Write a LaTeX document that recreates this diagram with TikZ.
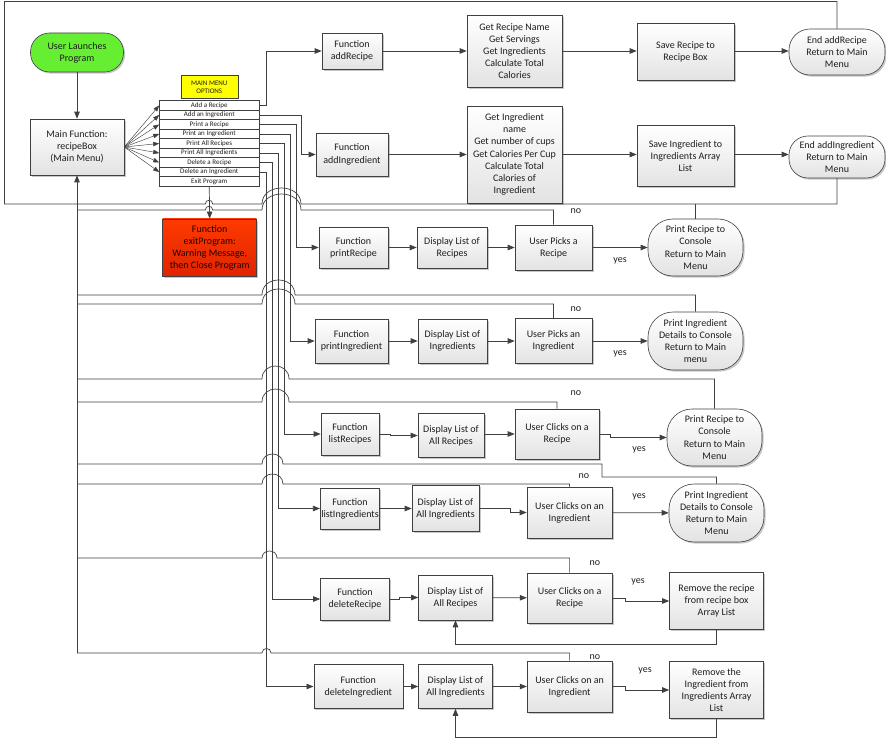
\documentclass[tikz,border=0pt]{standalone}
\usepackage{fontspec}
\setmainfont{Carlito}
\usetikzlibrary{arrows.meta,shadows}

\definecolor{ln}{RGB}{64,64,64}
\definecolor{txt}{RGB}{30,30,30}
\definecolor{launchgreen}{RGB}{102,238,51}
\definecolor{exittop}{RGB}{255,58,0}
\definecolor{exitbot}{RGB}{222,36,0}
\definecolor{menuyellow}{RGB}{255,255,0}

% line hop: a half-ellipse bump from x=#1 to x=#2 on the line y=#3, height #4
\newcommand\hump[4]{-- (#1,#3) .. controls (#1,{#3-1.333*#4}) and (#2,{#3-1.333*#4}) .. (#2,#3)}

\tikzset{
  base/.style={draw=ln, line width=0.6pt, align=center, text=txt,
    font=\fontsize{10}{12.2}\selectfont, inner sep=1pt},
  shade/.style={drop shadow={shadow xshift=1.6pt, shadow yshift=-1.6pt, fill=black!22, opacity=1}},
  proc/.style 2 args={base, shade, top color=white, bottom color=black!11,
    minimum width=#1pt, minimum height=#2pt},
  term/.style n args={3}{base, shade, top color=white, bottom color=black!11,
    minimum width=#1pt, minimum height=#2pt, rounded corners=#3pt},
  menuitem/.style={draw=ln, line width=0.6pt, fill=white, text=txt,
    font=\fontsize{7}{8}\selectfont, inner sep=0pt,
    minimum width=99.5pt, minimum height=9.51pt},
  conn/.style={draw=ln, line width=0.7pt},
  arr/.style={conn, -{Triangle[length=7pt,width=5.5pt]}},
  fan/.style={draw=ln, line width=0.45pt, -{Triangle[length=6pt,width=4.5pt]}},
  lbl/.style={text=txt, font=\fontsize{10}{12}\selectfont, inner sep=0pt},
}

\begin{document}
\begin{tikzpicture}[x=1pt, y=-1pt]
\useasboundingbox (0,0) rectangle (886,738);

% ---------- start and main menu ----------
\node[base, shade, fill=launchgreen, rounded corners=19pt,
      minimum width=93pt, minimum height=39pt] (launch) at (77,52.5) {User Launches\\Program};
\node[proc={94}{56}] (mainfn) at (77,147) {Main Function:\\recipeBox\\(Main Menu)};

\node[draw=ln, line width=0.6pt, fill=menuyellow, text=txt, align=center,
      font=\fontsize{7}{8.2}\selectfont, inner sep=0pt,
      minimum width=57pt, minimum height=23pt] (menutitle) at (209.3,87.3) {MAIN MENU\\OPTIONS};

\foreach \i/\t in {1/Add a Recipe, 2/Add an Ingredient, 3/Print a Recipe,
                   4/Print an Ingredient, 5/Print All Recipes, 6/Print All Ingredients,
                   7/Delete a Recipe, 8/Delete an Ingredient, 9/Exit Program}
  \node[menuitem] (m\i) at (209.25,{100.7+9.51*(\i-0.5)}) {\t};

\node[base, shade, top color=exittop, bottom color=exitbot, text=black!85!red,
      minimum width=94pt, minimum height=57.7pt] (exitfn) at (209.7,247.8)
      {Function\\exitProgram:\\Warning Message,\\then Close Program};

% ---------- add recipe / add ingredient ----------
\node[proc={60}{36}] (fAddRecipe) at (352,51) {Function\\addRecipe};
\node[proc={95}{72}] (getRecipe) at (514.5,51) {Get Recipe Name\\Get Servings\\Get Ingredients\\Calculate Total\\Calories};
\node[proc={97}{57}] (saveRecipe) at (685.5,51.5) {Save Recipe to\\Recipe Box};
\node[term={96}{46}{21}] (endAddRecipe) at (837,52) {End addRecipe\\Return to Main\\Menu};

\node[proc={72}{43}] (fAddIngr) at (352,154.5) {Function\\addIngredient};
\node[proc={95}{97}] (getIngr) at (514.5,154.5) {Get Ingredient\\name\\Get number of cups\\Get Calories Per Cup\\Calculate Total\\Calories of\\Ingredient};
\node[proc={97}{61}] (saveIngr) at (685.5,156) {Save Ingredient to\\Ingredients Array\\List};
\node[term={96}{42}{19}] (endAddIngr) at (837,157) {End addIngredient\\Return to Main\\Menu};

% ---------- print recipe ----------
\node[proc={69}{41}] (fPrintRecipe) at (353.5,247.5) {Function\\printRecipe};
\node[proc={70}{41}] (dispRecipes) at (452,247.5) {Display List of\\Recipes};
\node[proc={77}{45}] (pickRecipe) at (553.5,247.5) {User Picks a\\Recipe};
\node[term={95}{57}{25}] (printRecipeEnd) at (695.5,247.5) {Print Recipe to\\Console\\Return to Main\\Menu};

% ---------- print ingredient ----------
\node[proc={73}{44}] (fPrintIngr) at (351.5,341) {Function\\printIngredient};
\node[proc={69}{44}] (dispIngr) at (452.5,341) {Display List of\\Ingredients};
\node[proc={77}{45}] (pickIngr) at (553.5,341) {User Picks an\\Ingredient};
\node[term={95}{58}{25}] (printIngrEnd) at (695.5,341) {Print Ingredient\\Details to Console\\Return to Main\\menu};

% ---------- list recipes ----------
\node[proc={58}{42}] (fListRecipes) at (350,434) {Function\\listRecipes};
\node[proc={66}{44}] (dispAllRecipes) at (451,435.5) {Display List of\\All Recipes};
\node[proc={84}{50}] (clickRecipe) at (557,434) {User Clicks on a\\Recipe};
\node[term={95}{57}{25}] (listRecipeEnd) at (714.5,437.5) {Print Recipe to\\Console\\Return to Main\\Menu};

% ---------- list ingredients ----------
\node[proc={58}{41}] (fListIngr) at (350,508.5) {Function\\listIngredients};
\node[proc={67}{46}] (dispAllIngr) at (445.5,508.5) {Display List of\\All Ingredients};
\node[proc={85}{51}] (clickIngr) at (569.5,512.5) {User Clicks on an\\Ingredient};
\node[term={95}{58}{25}] (listIngrEnd) at (716.5,513) {Print Ingredient\\Details to Console\\Return to Main\\Menu};

% ---------- delete recipe ----------
\node[proc={69}{42}] (fDelRecipe) at (355,599) {Function\\deleteRecipe};
\node[proc={74}{45}] (dispDelRecipes) at (455.5,597.5) {Display List of\\All Recipes};
\node[proc={85}{50}] (clickDelRecipe) at (569.6,598) {User Clicks on a\\Recipe};
\node[proc={94}{57}] (removeRecipe) at (716.5,601) {Remove the recipe\\from recipe box\\Array List};

% ---------- delete ingredient ----------
\node[proc={89}{44}] (fDelIngr) at (358.3,686.5) {Function\\deleteIngredient};
\node[proc={74}{44}] (dispDelIngr) at (455.5,686.5) {Display List of\\All Ingredients};
\node[proc={85}{51}] (clickDelIngr) at (569.6,686.5) {User Clicks on an\\Ingredient};
\node[proc={94}{57}] (removeIngr) at (716.5,690) {Remove the\\Ingredient from\\Ingredients Array\\List};

% ---------- decision labels ----------
\node[lbl] (no1) at (576,211) {no};
\node[lbl] (yes1) at (620,261) {yes};
\node[lbl] (no2) at (576,309) {no};
\node[lbl] (yes2) at (620,354) {yes};
\node[lbl] (no3) at (576,393) {no};
\node[lbl] (yes3) at (639,450) {yes};
\node[lbl] (no4) at (584,476) {no};
\node[lbl] (yes4) at (639,497) {yes};
\node[lbl] (no5) at (595,563) {no};
\node[lbl] (yes5) at (638,582) {yes};
\node[lbl] (no6) at (595,657) {no};
\node[lbl] (yes6) at (645,671) {yes};

% ---------- flow into the menu ----------
\draw[arr] (launch) -- (mainfn);
\foreach \i in {1,...,8}
  \draw[fan] (mainfn.east) -- (m\i.west);
\draw[arr] (m9.south) -- (exitfn.north);

% ---------- menu options to their functions ----------
\draw[arr] (m1.east) -| (266.7,51) -- (fAddRecipe.west);
\draw[arr] (m2.east) -| (301,154.5) -- (fAddIngr.west);
\draw[arr] (m3.east) -| (296.7,247.5) -- (fPrintRecipe.west);
\draw[arr] (m4.east) -| (290.7,341) -- (fPrintIngr.west);
\draw[arr] (m5.east) -| (284.3,434) -- (fListRecipes.west);
\draw[arr] (m6.east) -| (278.3,508.5) -- (fListIngr.west);
\draw[arr] (m7.east) -| (272.7,599) -- (fDelRecipe.west);
\draw[arr] (m8.east) -| (266.7,686.5) -- (fDelIngr.west);

% ---------- steps within each function ----------
\draw[arr] (fAddRecipe) -- (getRecipe);
\draw[arr] (getRecipe) -- (saveRecipe.west |- getRecipe.east);
\draw[arr] (saveRecipe.east |- getRecipe.east) -- (endAddRecipe.west |- getRecipe.east);
\draw[arr] (fAddIngr) -- (getIngr);
\draw[arr] (getIngr.east) -- (saveIngr.west |- getIngr.east);
\draw[arr] (saveIngr.east |- getIngr.east) -- (endAddIngr.west |- getIngr.east);

\draw[arr] (fPrintRecipe) -- (dispRecipes);
\draw[arr] (dispRecipes) -- (pickRecipe);
\draw[arr] (pickRecipe) -- (printRecipeEnd);

\draw[arr] (fPrintIngr) -- (dispIngr);
\draw[arr] (dispIngr) -- (pickIngr);
\draw[arr] (pickIngr) -- (printIngrEnd);

\draw[arr] (fListRecipes.east) -- ++(11,0) |- (dispAllRecipes.west);
\draw[arr] (dispAllRecipes.east |- clickRecipe.west) -- (clickRecipe.west);
\draw[arr] (clickRecipe.east) -- ++(11,0) |- (listRecipeEnd.west);

\draw[arr] (fListIngr) -- (dispAllIngr);
\draw[arr] (dispAllIngr.east) -- ++(31,0) |- (clickIngr.west);
\draw[arr] (clickIngr) -- (listIngrEnd);

\draw[arr] (fDelRecipe.east) -- ++(10,0) |- (dispDelRecipes.west);
\draw[arr] (dispDelRecipes) -- (clickDelRecipe);
\draw[arr] (clickDelRecipe.east) -- ++(13,0) |- (removeRecipe.west);
\draw[arr] (removeRecipe.south) -- ++(0,14.3) -| (dispDelRecipes.south);

\draw[arr] (fDelIngr) -- (dispDelIngr);
\draw[arr] (dispDelIngr) -- (clickDelIngr);
\draw[arr] (clickDelIngr.east) -- ++(13,0) |- (removeIngr.west);
\draw[arr] (removeIngr.south) -- ++(0,18.4) -| (dispDelIngr.south);

% ---------- returns to the main menu ----------
\coordinate (busEnd) at (77,653);
\draw[arr] (busEnd) -- (mainfn.south);

\draw[conn] (endAddRecipe.north) |- (4.5,1.5) -- (4.5,204)
  \hump{205.3}{212.7}{204}{3.7} \hump{262}{301}{204}{16} -| (endAddIngr.south);
\coordinate (j204) at (695.5,204);
\draw[conn] (printRecipeEnd.north) -- (j204);

\coordinate (b210) at (77,210);
\draw[conn] (b210) \hump{205.3}{212.7}{210}{3.7} \hump{262}{301}{210}{16} -| (pickRecipe.north);
\coordinate (b295) at (77,295);
\draw[conn] (b295) \hump{262}{295}{295}{15} -| (printIngrEnd.north);
\coordinate (b304) at (77,304);
\draw[conn] (b304) \hump{262}{295}{304}{15} -| (pickIngr.north);
\coordinate (b379) at (77,379);
\draw[conn] (b379) \hump{262}{289}{379}{13} -| (listRecipeEnd.north);
\coordinate (b402) at (77,402);
\draw[conn] (b402) \hump{262}{289}{402}{13} -| (clickRecipe.north);
\coordinate (b464) at (77,464);
\draw[conn] (b464) \hump{262}{283}{464}{10} -- (602,464) -- (602,477) -| (listIngrEnd.north);
\coordinate (b484) at (77,484);
\draw[conn] (b484) \hump{262}{283}{484}{10} -| (clickIngr.north);
\coordinate (b558) at (77,558);
\draw[conn] (b558) \hump{262}{277}{558}{7} -| (clickDelRecipe.north);
\draw[conn] (busEnd) \hump{262}{271}{653}{4.5} -| (clickDelIngr.north);

\end{tikzpicture}
\end{document}
